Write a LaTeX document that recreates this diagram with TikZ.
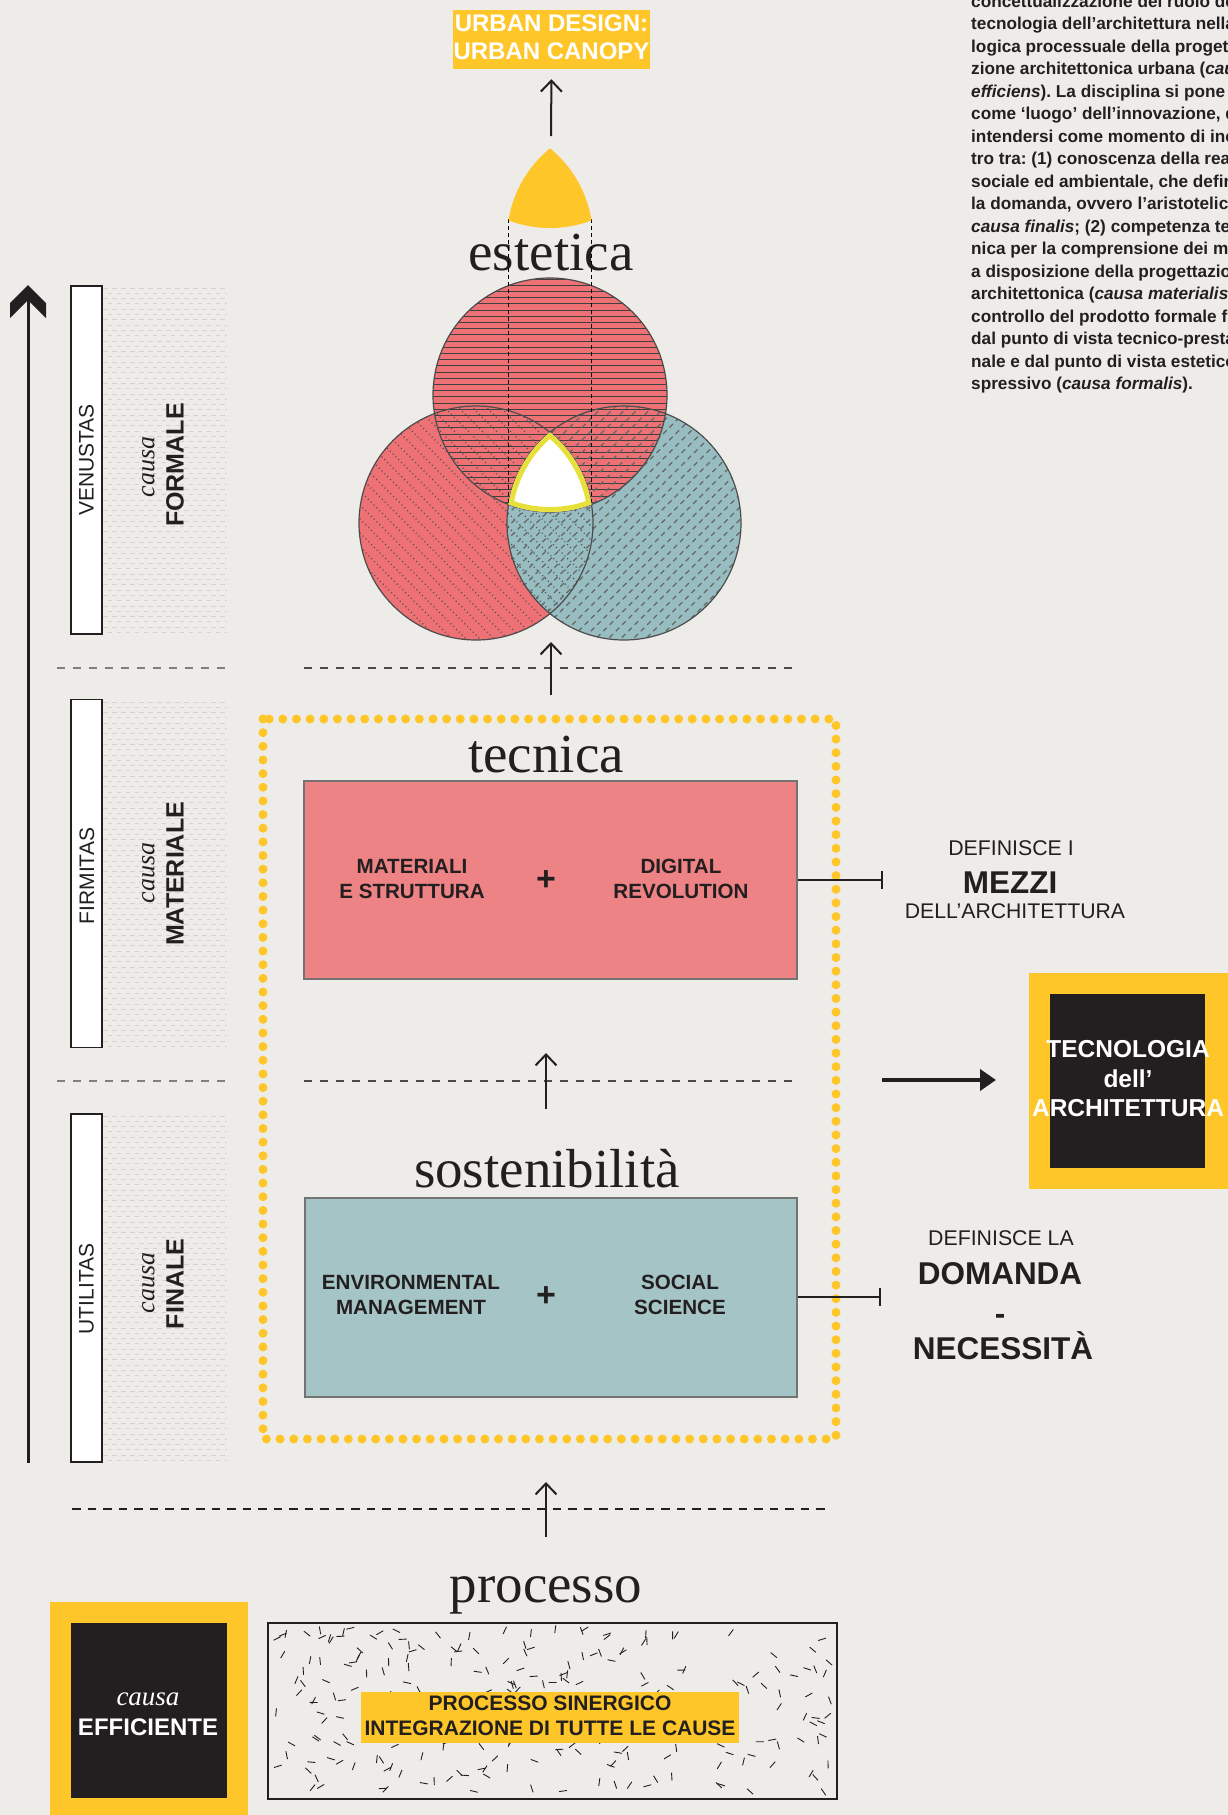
\documentclass[tikz,border=0pt]{standalone}
\usepackage{fontspec}
\setmainfont{Liberation Serif}
\newfontfamily\sansf{Liberation Sans}
\usetikzlibrary{arrows.meta}
\definecolor{bg}{RGB}{237,236,232}
\definecolor{ylw}{RGB}{255,198,41}
\definecolor{lemon}{RGB}{232,224,58}
\definecolor{ink}{RGB}{35,31,32}
\definecolor{redc}{RGB}{238,114,117}
\definecolor{tealc}{RGB}{151,189,193}
\definecolor{redbox}{RGB}{238,131,133}
\definecolor{tealbox}{RGB}{165,196,198}
\definecolor{hatchc}{RGB}{212,211,207}
\frenchspacing
\begin{document}
\begin{tikzpicture}[x=1pt,y=-1pt,
  sanslbl/.style={font=\sansf\bfseries\fontsize{20.6}{24}\selectfont, text=ink, inner sep=0pt, anchor=base},
  whitelbl/.style={font=\sansf\bfseries\fontsize{24.5}{28}\selectfont, text=white, inner sep=0pt, anchor=base},
  serifttl/.style={font=\fontsize{55}{60}\selectfont, text=ink, inner sep=0pt, anchor=base},
  parline/.style={font=\sansf\bfseries\fontsize{17.2}{20}\selectfont, text=ink, inner sep=0pt, anchor=base west},
  vlabel/.style={font=\sansf\fontsize{21}{24}\selectfont, text=ink, inner sep=0pt, rotate=90},
  vcausa/.style={font=\itshape\fontsize{26}{28}\selectfont, text=ink, inner sep=0pt, rotate=90},
  vcause/.style={font=\sansf\bfseries\fontsize{25}{28}\selectfont, text=ink, inner sep=0pt, rotate=90},
  deflbl/.style={font=\sansf\fontsize{21.3}{24}\selectfont, text=ink, inner sep=0pt, anchor=base},
  bigword/.style={font=\sansf\bfseries\fontsize{31.5}{34}\selectfont, text=ink, inner sep=0pt, anchor=base},
  plus/.style={font=\sansf\bfseries\fontsize{34}{36}\selectfont, text=ink, inner sep=0pt},
  upar/.style={draw=ink, line width=2pt, -{Straight Barb[length=11pt,width=21pt]}},
  tbar/.style={draw=ink, line width=2.2pt, -{Bar[width=18pt]}},
  bigarrow/.style={draw=ink, line width=4.5pt, -{Triangle[length=16pt,width=21pt]}},
  greydash/.style={draw=black!50, line width=2pt, dash pattern=on 8pt off 8pt},
  darkdash/.style={draw=black!70, line width=1.2pt, dash pattern=on 8pt off 8pt},
  circline/.style={draw=black!70, line width=1.2pt},
  barbox/.style={draw=ink, fill=white, line width=1.2pt},
  hline/.style={draw=black!75, line width=0.8pt},
  dotline/.style={draw=black!70, line width=1.1pt, dash pattern=on 1pt off 3pt},
  slashline/.style={draw=black!60, line width=1.1pt, dash pattern=on 5pt off 4pt}
]
\useasboundingbox (0,0) rectangle (1228,1815);
\fill[bg] (0,0) rectangle (1228,1815);
\begin{scope}
\clip (0,0) rectangle (1228,1815);

% ---------- paragraph top right ----------
\node[parline] (p1) at (971,7) {concettualizzazione del ruolo della};
\node[parline] (p2) at (971,29.5) {tecnologia dell’architettura nella};
\node[parline] (p3) at (971,52) {logica processuale della progetta-};
\node[parline] (p4) at (971,74.5) {zione architettonica urbana (\textit{causa}};
\node[parline] (p5) at (971,97) {\textit{efficiens}). La disciplina si pone};
\node[parline] (p6) at (971,119.5) {come ‘luogo’ dell’innovazione, da};
\node[parline] (p7) at (971,142) {intendersi come momento di incon-};
\node[parline] (p8) at (971,164.5) {tro tra: (1) conoscenza della realtà};
\node[parline] (p9) at (971,187) {sociale ed ambientale, che definisce};
\node[parline] (p10) at (971,209.5) {la domanda, ovvero l’aristotelica};
\node[parline] (p11) at (971,232) {\textit{causa finalis}; (2) competenza tec-};
\node[parline] (p12) at (971,254.5) {nica per la comprensione dei mezzi};
\node[parline] (p13) at (971,277) {a disposizione della progettazione};
\node[parline] (p14) at (971,299.5) {architettonica (\textit{causa materialis}); (3)};
\node[parline] (p15) at (971,322) {controllo del prodotto formale finale};
\node[parline] (p16) at (971,344.5) {dal punto di vista tecnico-prestazio-};
\node[parline] (p17) at (971,367) {nale e dal punto di vista estetico-e-};
\node[parline] (p18) at (971,389.5) {spressivo (\textit{causa formalis}).};

% ---------- urban design ----------
\node[fill=ylw, minimum width=197pt, minimum height=59pt, inner sep=0pt] (urban) at (551.5,39.5) {};
\node[whitelbl, font=\sansf\bfseries\fontsize{24}{28}\selectfont] (urban1) at (551.5,31) {URBAN DESIGN:};
\node[whitelbl, font=\sansf\bfseries\fontsize{24}{28}\selectfont] (urban2) at (551.5,59) {URBAN CANOPY};
\coordinate (shapetop) at (551,136);
\draw[upar, shorten >=10pt] (shapetop) -- (urban.south);

% ---------- left axis ----------
\coordinate (axbot) at (28,1463);
\coordinate (axtop) at (28,300);
\draw[ink, line width=3pt] (axbot) -- (axtop);
\fill[ink] (28,285) -- (46,303) -- (46,318) -- (28,300) -- (10,318) -- (10,303) -- cycle;

% ---------- hatched columns and bars ----------
\foreach \tp in {286,700,1114}{
  \foreach \k in {0,...,65}{
    \pgfmathsetmacro{\yy}{\tp+2+5.3*\k}
    \pgfmathsetmacro{\ph}{mod(\k,2)*4.5}
    \draw[hatchc, line width=1pt, dash pattern=on 4.5pt off 4.5pt, dash phase=\ph pt] (103,\yy) -- (227,\yy);
  }
}
\node[barbox, minimum width=31pt, minimum height=348pt, inner sep=0pt] (bar1) at (86.5,460) {};
\node[barbox, minimum width=31pt, minimum height=348pt, inner sep=0pt] (bar2) at (86.5,873.5) {};
\node[barbox, minimum width=31pt, minimum height=348pt, inner sep=0pt] (bar3) at (86.5,1288) {};
\node[vlabel] (venustas) at (86.5,460) {VENUSTAS};
\node[vlabel] (firmitas) at (87,876) {FIRMITAS};
\node[vlabel] (utilitas) at (86.5,1289) {UTILITAS};
\node[vcausa] (causa1) at (148.5,467) {causa};
\node[vcause] (formale) at (175,465) {FORMALE};
\node[vcausa] (causa2) at (148.5,873) {causa};
\node[vcause] (materiale) at (175,874) {MATERIALE};
\node[vcausa] (causa3) at (148.5,1283) {causa};
\node[vcause] (finale) at (175,1284) {FINALE};

% ---------- dashed separators ----------
\draw[greydash] (57,668) -- (226,668);
\draw[darkdash] (304,668) -- (794,668);
\draw[greydash] (57,1081) -- (226,1081);
\draw[darkdash] (304,1081) -- (794,1081);
\draw[draw=ink, line width=2.8pt, dash pattern=on 8.5pt off 7pt] (72,1509) -- (831,1509);

% ---------- estetica / Venn ----------
\node[serifttl] (estetica) at (551,270) {estetica};
\coordinate (cT) at (550,395);
\coordinate (cL) at (476,523);
\coordinate (cR) at (624,523);
\fill[redc] (cL) circle[radius=117];
\fill[tealc] (cR) circle[radius=117];
\fill[redc] (cT) circle[radius=117];
\begin{scope}
  \clip (cT) circle[radius=117];
  \foreach \k in {0,...,38} { \draw[hline] (430,{279+6.2*\k}) -- (670,{279+6.2*\k}); }
\end{scope}
\begin{scope}
  \clip (cL) circle[radius=117];
  \foreach \k in {-18,...,18} { \draw[dotline] ({476+14*\k-140},383) -- ++(280,280); }
\end{scope}
\begin{scope}
  \clip (cR) circle[radius=117];
  \foreach \k in {-20,...,20} { \draw[slashline] ({624+12.5*\k-140},663) -- ++(280,-280); }
\end{scope}
\draw[circline] (cL) circle[radius=117];
\draw[circline] (cR) circle[radius=117];
\draw[circline] (cT) circle[radius=117];
% dashed verticals
\draw[black, line width=1pt, dash pattern=on 4pt off 3pt] (508.5,219) -- (508.5,504);
\draw[black, line width=1pt, dash pattern=on 4pt off 3pt] (591.5,219) -- (591.5,504);
% central curved triangle
\begin{scope}
  \clip (cT) circle[radius=117];
  \clip (cL) circle[radius=117];
  \clip (cR) circle[radius=117];
  \fill[white] (400,380) rectangle (700,560);
  \draw[lemon, line width=10pt] (cT) circle[radius=117] (cL) circle[radius=117] (cR) circle[radius=117];
\end{scope}
% yellow top shape (same curved triangle, 284 px higher)
\begin{scope}
  \clip (550,111) circle[radius=117];
  \clip (476,239) circle[radius=117];
  \clip (624,239) circle[radius=117];
  \fill[ylw] (400,96) rectangle (700,276);
\end{scope}
\coordinate (vennlow) at (551,695);
\coordinate (vennbot) at (551,642);
\draw[upar] (vennlow) -- (vennbot);

% ---------- dotted frame ----------
\draw[ylw, line width=9pt, line cap=round, dash pattern=on 0pt off 13.65pt] (263,719) rectangle (836,1439);

% ---------- tecnica ----------
\node[serifttl] (tecnica) at (546,772) {tecnica};
\node[draw=black!55, line width=2pt, fill=redbox, minimum width=493pt, minimum height=198pt, inner sep=0pt] (tbox) at (550.5,880) {};
\node[sanslbl] (mat1) at (412,873) {MATERIALI};
\node[sanslbl] (mat2) at (412,898) {E STRUTTURA};
\node[plus] (plus1) at (546,881) {+};
\node[sanslbl] (dig1) at (681,873) {DIGITAL};
\node[sanslbl] (dig2) at (681,898) {REVOLUTION};
\coordinate (mezziend) at (883,880);
\draw[tbar] (tbox.east) -- (mezziend);
\node[deflbl] (def1) at (1011,855) {DEFINISCE I};
\node[bigword] (mezzi) at (1010,893) {MEZZI};
\node[deflbl, font=\sansf\fontsize{21.2}{24}\selectfont] (dellarch) at (1015,918) {DELL’ARCHITETTURA};

% ---------- arrow between boxes ----------
\coordinate (sostop) at (546,1109);
\coordinate (tecbot) at (546,1053);
\draw[upar] (sostop) -- (tecbot);

% ---------- tecnologia box ----------
\node[fill=ylw, minimum width=199pt, minimum height=216pt, inner sep=0pt] (tecout) at (1128.5,1081) {};
\node[fill=ink, minimum width=155pt, minimum height=174pt, inner sep=0pt] (tecin) at (1127.5,1081) {};
\node[whitelbl] (tec1) at (1128,1057) {TECNOLOGIA};
\node[whitelbl] (tec2) at (1128,1087) {dell’};
\node[whitelbl] (tec3) at (1128,1116) {ARCHITETTURA};
\coordinate (ra1) at (882,1080);
\coordinate (ra2) at (996,1080);
\draw[bigarrow] (ra1) -- (ra2);

% ---------- sostenibilita ----------
\node[serifttl] (sost) at (547,1187) {sostenibilità};
\node[draw=black!55, line width=2pt, fill=tealbox, minimum width=492pt, minimum height=199pt, inner sep=0pt] (sbox) at (551,1297) {};
\node[sanslbl] (env1) at (411,1289) {ENVIRONMENTAL};
\node[sanslbl] (env2) at (411,1314) {MANAGEMENT};
\node[plus] (plus2) at (546,1297) {+};
\node[sanslbl] (soc1) at (680,1289) {SOCIAL};
\node[sanslbl] (soc2) at (680,1314) {SCIENCE};
\coordinate (domend) at (881,1297);
\draw[tbar] (sbox.east) -- (domend);
\node[deflbl] (def2) at (1001,1245) {DEFINISCE LA};
\node[bigword] (domanda) at (1000,1284) {DOMANDA};
\node[bigword] (dash) at (1000,1324) {-};
\node[bigword] (necess) at (1003,1359) {NECESSITÀ};

% ---------- process ----------
\coordinate (procup) at (546,1537);
\coordinate (procdn) at (546,1482);
\draw[upar] (procup) -- (procdn);
\node[serifttl] (processo) at (546,1602) {processo};
\node[draw=ink, line width=2.5pt, minimum width=569pt, minimum height=176pt, inner sep=0pt] (pbox) at (552.5,1711) {};
\pgfmathsetseed{42}
\begin{scope}
  \clip (270,1625) rectangle (835,1797);
  \foreach \i in {1,...,240}{
    \pgfmathsetmacro{\px}{272+561*rnd}
    \pgfmathsetmacro{\py}{1628+166*rnd}
    \pgfmathsetmacro{\pa}{180*rnd}
    \pgfmathsetmacro{\pb}{\pa+180}
    \draw[ink, line width=0.9pt] (\px,\py) ++(\pb:4) -- ++(\pa:8);
  }
\end{scope}
\node[fill=ylw, minimum width=378pt, minimum height=51pt, inner sep=0pt] (plabel) at (550,1717.5) {};
\node[sanslbl, font=\sansf\bfseries\fontsize{21}{24}\selectfont] (pl1) at (550,1710) {PROCESSO SINERGICO};
\node[sanslbl, font=\sansf\bfseries\fontsize{21}{24}\selectfont] (pl2) at (550,1735) {INTEGRAZIONE DI TUTTE LE CAUSE};

% ---------- causa efficiente ----------
\node[fill=ylw, minimum width=198pt, minimum height=216pt, inner sep=0pt] (effout) at (149,1710) {};
\node[fill=ink, minimum width=156pt, minimum height=175pt, inner sep=0pt] (effin) at (149,1710.5) {};
\node[font=\itshape\fontsize{27}{30}\selectfont, text=white, inner sep=0pt, anchor=base] (effc) at (148,1705) {causa};
\node[whitelbl, font=\sansf\bfseries\fontsize{24}{28}\selectfont] (effw) at (148,1735) {EFFICIENTE};
\end{scope}
\end{tikzpicture}
\end{document}
